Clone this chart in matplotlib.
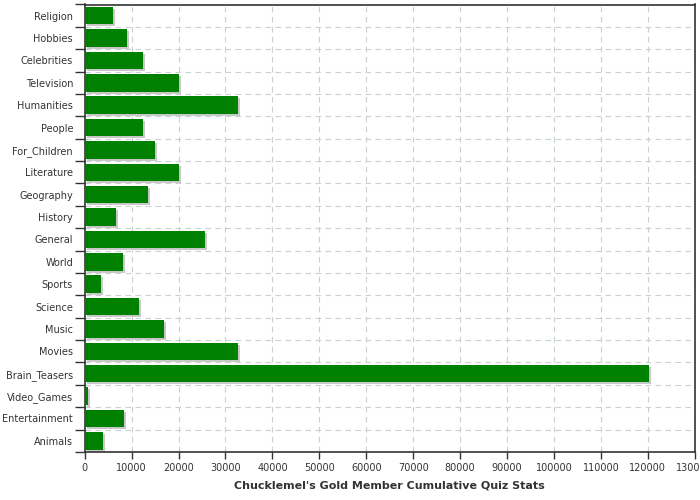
import numpy as np
import matplotlib.pyplot as plt

categories = ['Religion', 'Hobbies', 'Celebrities', 'Television', 'Humanities',
              'People', 'For_Children', 'Literature', 'Geography', 'History',
              'General', 'World', 'Sports', 'Science', 'Music', 'Movies',
              'Brain_Teasers', 'Video_Games', 'Entertainment', 'Animals']
values = [6050, 9050, 12450, 20100, 32650,
          12450, 15000, 20100, 13500, 6700,
          25650, 8250, 3500, 11600, 16900, 32650,
          120200, 750, 8450, 3950]
xticks = list(range(0, 130001, 10000))
title = "Chucklemel's Gold Member Cumulative Quiz Stats"

text_col = '#333333'
fig = plt.figure(figsize=(7, 5), dpi=100)
ax = fig.add_axes([84.7 / 700, 1 - 452 / 500, (694.7 - 84.7) / 700, (452 - 4.5) / 500])

y = np.arange(len(categories))
h = 0.78
# grey drop shadow, about 2px right and down
shadow_offset = 2 * (130000 / 610)
ax.barh(y + 0.09, values, height=h, left=shadow_offset, color='#c8c8c8', zorder=2)
ax.barh(y, values, height=h, color='#008000', zorder=3)

ax.set_xlim(0, 130000)
ax.set_ylim(len(categories) - 0.5, -0.5)
ax.set_xticks(xticks)
ax.set_xticklabels([str(t) for t in xticks], fontsize=7, color=text_col)
ax.set_yticks(y)
ax.set_yticklabels(categories, fontsize=7, color=text_col)
ax.set_yticks(np.arange(-0.5, len(categories)), minor=True)
ax.tick_params(axis='y', which='major', length=0, pad=8.4)
ax.tick_params(axis='y', which='minor', length=7, width=1, color='#333333')
ax.tick_params(axis='x', which='major', length=5, width=1, color='#333333', pad=3)

ax.grid(True, axis='x', which='major', color='#c8d0d4', linestyle=(0, (5, 4)), linewidth=0.8, zorder=0)
ax.grid(True, axis='y', which='minor', color='#c8d0d4', linestyle=(0, (5, 4)), linewidth=0.8, zorder=0)
ax.set_axisbelow(True)

for s in ax.spines.values():
    s.set_color('#333333')
    s.set_linewidth(1.2)

ax.set_xlabel(title, fontsize=8, fontweight='bold', color=text_col, labelpad=5)

fig.savefig('out.png', dpi=100)
